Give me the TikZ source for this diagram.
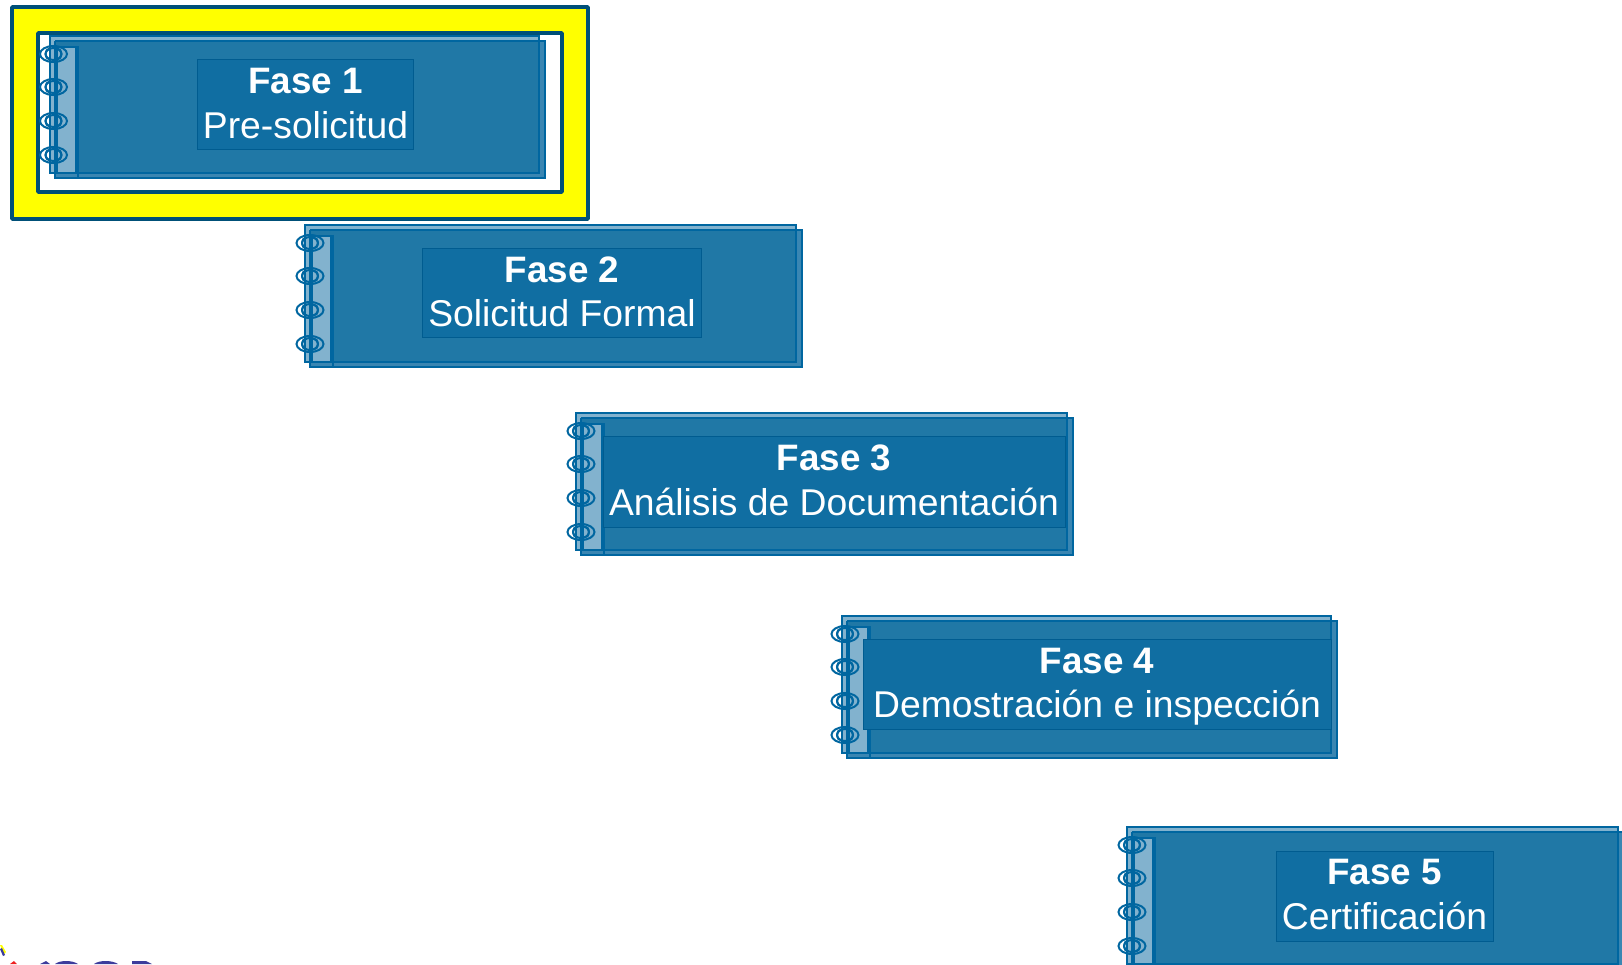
\documentclass[tikz,border=0pt]{standalone}
\usepackage{fontspec}
\setmainfont{Liberation Sans}
\definecolor{ln}{HTML}{0066A0}
\definecolor{body}{HTML}{2078A6}
\definecolor{txtbox}{HTML}{106EA2}
\definecolor{pale}{HTML}{82B2CE}
\definecolor{backsheet}{HTML}{3A86B2}
\definecolor{frame}{HTML}{005078}
\definecolor{logoblue}{HTML}{3C3C9C}
\definecolor{brightyellow}{HTML}{FFFF00}
\definecolor{brightred}{HTML}{EE2020}
\tikzset{
  sheet/.style={draw=ln,line width=2.3pt,fill=pale},
  backpage/.style={draw=ln,line width=1.8pt,fill=backsheet},
  bodysheet/.style={fill=body},
  bodyline/.style={draw=ln,line width=2.8pt},
  spineline/.style={draw=ln,line width=1.6pt},
  ringline/.style={draw=ln,line width=2pt},
  labelbox/.style={draw=ln!90!black,line width=0.9pt,fill=txtbox,inner sep=0pt},
  labeltext/.style={text=white,align=center,inner sep=0pt,font=\fontsize{37.3}{44.6}\selectfont},
  yellowframe/.style={draw=frame,line width=3.8pt,fill=brightyellow,rounded corners=0.8pt},
  whiteframe/.style={draw=frame,line width=3.8pt,fill=white,rounded corners=0.8pt},
}
\newcommand{\notebook}[4]{%
  \begin{scope}[shift={(#1,#2)}]
    \draw[backpage] (5,5) rectangle (#3+6,142);
    \draw[sheet] (0,0) rectangle (#3,137);
    \fill[bodysheet] (5,5) rectangle (#3,137);
    \draw[bodyline] (5,5) -- (#3,5) -- (#3,137) -- (5,137);
    \draw[spineline,fill=pale] (7,11) rectangle (26,137);
    \draw[spineline] (0,0) -- (0,137);
    \draw[spineline] (5,5) -- (5,142) -- (28,142) -- (28,11) -- (5,11);
    \begin{scope}[xshift=#4pt]
    \foreach \ry in {18,51,85,119}{
      \draw[ringline] (5,\ry) ellipse (13.5 and 8);
      \draw[ringline] (5,\ry) ellipse (8 and 6);
      \draw[ringline] (-3,\ry) arc (180:90:4.5 and 5.5) (-3,\ry) arc (180:270:4.5 and 5.5);
      \draw[ringline] (13,\ry) arc (0:90:4.5 and 5.5) (13,\ry) arc (0:-90:4.5 and 5.5);
    }
    \end{scope}
  \end{scope}}
\newcommand{\fasebold}[1]{{\fontsize{36.8}{44.6}\selectfont\bfseries #1}}
\begin{document}
\begin{tikzpicture}[x=1pt,y=-1pt]
\useasboundingbox (0,0) rectangle (1622,964);
\clip (0,0) rectangle (1622,964);
\fill[white] (0,0) rectangle (1622,964);
\draw[yellowframe] (12,7) rectangle (588,219);
\draw[whiteframe] (38,33) rectangle (562,192);
\notebook{50}{36}{489}{-1.5}
\notebook{305}{225}{491}{0}
\notebook{576}{413}{491}{0}
\notebook{842}{616}{489}{-2}
\notebook{1127}{827}{491}{0}
\node[labelbox,minimum width=216pt,minimum height=90pt] (b1) at (305.5,104.5) {};
\node[labelbox,minimum width=279pt,minimum height=89pt] (b2) at (561.5,292.5) {};
\node[labelbox,minimum width=462pt,minimum height=91pt] (b3) at (834,481.5) {};
\node[labelbox,minimum width=468pt,minimum height=90pt] (b4) at (1097,684) {};
\node[labelbox,minimum width=217pt,minimum height=90pt] (b5) at (1384.5,896) {};
\node[labeltext] (f1) at (305.5,103.3) {\fasebold{Fase 1}\\Pre-solicitud};
\node[labeltext] (f2) at (562,291.8) {\fasebold{Fase 2}\\Solicitud Formal};
\node[labeltext] (f3) at (834,480.4) {\fasebold{Fase 3}\\Análisis de Documentación};
\node[labeltext] (f4) at (1097,686.8) {\fasebold{Fase 4}\\Demostración e inspección};
\node[labeltext] (f5) at (1384.5,894.4) {\fasebold{Fase 5}\\Certificación};
% cut-off logo at the lower edge
\fill[brightyellow] (0,945) -- (2,945) -- (6,952) -- (4,954) -- cycle;
\fill[logoblue] (0,949) -- (2,948) -- (5,955) -- (3,956) -- cycle;
\fill[brightred] (10,964) -- (14,961) -- (17,964) -- cycle;
\fill[logoblue] (40,964) -- (46,961) -- (50,964) -- cycle;
\fill[logoblue] (55,964) .. controls (60,960) and (72,960) .. (78,964) -- cycle;
\fill[logoblue] (94,964) .. controls (99,960) and (112,960) .. (118,964) -- cycle;
\fill[logoblue] (132,964) -- (132,961) -- (146,961) -- (152,964) -- cycle;
\end{tikzpicture}
\end{document}
